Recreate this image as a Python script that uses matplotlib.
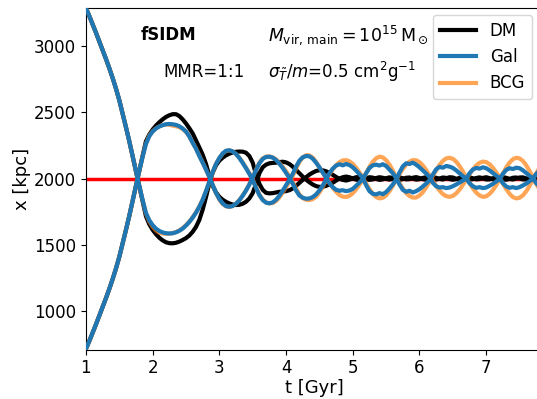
import matplotlib
matplotlib.use("Agg")
import matplotlib.pyplot as plt
import numpy as np

# time grid [Gyr], 0.05 Gyr steps from 1.00 to 7.85
t = np.linspace(1.0, 7.85, 138)

# halo starting at the top (x ~ 3290 kpc)
dm_a = [3287, 3228, 3166, 3102, 3036, 2970, 2904, 2834, 2760, 2680,
        2592, 2490, 2388, 2282, 2170, 2055, 1940, 1828, 1715, 1655,
        1613, 1580, 1553, 1533, 1519, 1512, 1511, 1515, 1524, 1536,
        1550, 1570, 1598, 1635, 1688, 1765, 1860, 1965, 2045, 2100,
        2135, 2158, 2175, 2188, 2197, 2202, 2204, 2203, 2195, 2170,
        2120, 2030, 1960, 1915, 1892, 1888, 1890, 1895, 1900, 1902,
        1905, 1912, 1925, 1945, 1968, 1990, 2010, 2030, 2045, 2057,
        2063, 2062, 2055, 2042, 2028, 2012, 1998, 1990, 1985, 1992,
        2002, 2010, 2012, 2005, 1996, 1990, 1994, 2004, 2010, 2006,
        1997, 1992, 1998, 2008, 2010, 2002, 1994, 1996, 2006, 2011,
        2004, 1995, 1992, 2000, 2009, 2006, 1997, 1993, 2001, 2010,
        2008, 1998, 1993, 1998, 2007, 2010, 2002, 1994, 1996, 2005,
        2010, 2003, 1995, 1994, 2003, 2010, 2006, 1997, 1993, 2000,
        2008, 2009, 2001, 1994, 1995, 2004, 2009, 2003]
gal_a = [3287, 3228, 3166, 3102, 3036, 2970, 2904, 2834, 2760, 2680,
         2592, 2490, 2388, 2282, 2170, 2055, 1945, 1838, 1740, 1685,
         1648, 1622, 1604, 1593, 1587, 1585, 1587, 1594, 1606, 1622,
         1645, 1672, 1705, 1742, 1787, 1840, 1905, 1978, 2050, 2110,
         2155, 2190, 2210, 2214, 2205, 2185, 2155, 2118, 2078, 2035,
         1988, 1930, 1875, 1838, 1818, 1813, 1820, 1840, 1870, 1908,
         1950, 1990, 2035, 2090, 2135, 2160, 2170, 2168, 2150, 2120,
         2085, 2045, 2005, 1965, 1935, 1915, 1908, 1912, 1905, 1910,
         1922, 1945, 1970, 1998, 2040, 2080, 2100, 2105, 2098, 2108,
         2095, 2068, 2040, 2005, 1955, 1915, 1900, 1908, 1895, 1905,
         1920, 1940, 1962, 1988, 2030, 2070, 2088, 2082, 2095, 2090,
         2080, 2062, 2040, 2018, 2000, 1965, 1942, 1930, 1935, 1928,
         1932, 1945, 1960, 1978, 1996, 2035, 2065, 2078, 2072, 2082,
         2078, 2062, 2042, 2020, 2002, 1965, 1940, 1925]
bcg_a = [3287, 3228, 3166, 3102, 3036, 2970, 2904, 2834, 2760, 2680,
         2592, 2490, 2388, 2282, 2170, 2055, 1940, 1835, 1735, 1675,
         1635, 1608, 1592, 1585, 1583, 1584, 1588, 1596, 1608, 1625,
         1648, 1675, 1708, 1745, 1790, 1842, 1905, 1975, 2050, 2112,
         2155, 2188, 2208, 2212, 2205, 2186, 2158, 2122, 2082, 2040,
         1992, 1935, 1880, 1842, 1820, 1812, 1815, 1830, 1858, 1895,
         1935, 1975, 2020, 2075, 2125, 2160, 2177, 2175, 2158, 2125,
         2085, 2045, 2005, 1968, 1931, 1900, 1876, 1863, 1861, 1870,
         1889, 1918, 1953, 1992, 2041, 2088, 2127, 2153, 2165, 2160,
         2139, 2105, 2061, 2010, 1965, 1925, 1891, 1868, 1856, 1857,
         1872, 1897, 1933, 1974, 2019, 2063, 2103, 2133, 2152, 2157,
         2149, 2128, 2095, 2055, 2009, 1966, 1926, 1894, 1872, 1862,
         1866, 1884, 1912, 1949, 1991, 2039, 2084, 2121, 2146, 2157,
         2152, 2133, 2100, 2058, 2010, 1960, 1918, 1885]

# halo starting at the bottom (x ~ 710 kpc)
dm_b = [713, 772, 834, 898, 964, 1030, 1096, 1166, 1240, 1320,
        1408, 1510, 1612, 1718, 1830, 1945, 2060, 2172, 2282, 2332,
        2370, 2400, 2425, 2447, 2465, 2478, 2486, 2486, 2472, 2447,
        2416, 2380, 2341, 2288, 2235, 2180, 2110, 2020, 1945, 1895,
        1862, 1840, 1824, 1812, 1804, 1800, 1802, 1810, 1825, 1850,
        1890, 1960, 2040, 2085, 2105, 2115, 2118, 2120, 2124, 2127,
        2122, 2110, 2090, 2065, 2040, 2015, 1992, 1972, 1955, 1943,
        1937, 1938, 1945, 1955, 1968, 1985, 2000, 2010, 2015, 2010,
        2000, 1992, 1988, 1993, 2002, 2010, 2007, 1998, 1990, 1994,
        2003, 2009, 2005, 1996, 1990, 1996, 2006, 2008, 2000, 1992,
        1995, 2005, 2010, 2004, 1995, 1992, 2000, 2008, 2005, 1996,
        1991, 1996, 2005, 2008, 2000, 1993, 1995, 2004, 2009, 2002,
        1993, 1994, 2002, 2008, 2004, 1995, 1991, 1997, 2006, 2008,
        2000, 1993, 1995, 2003, 2007, 2000, 1994, 1996]
gal_b = [713, 772, 834, 898, 964, 1030, 1096, 1166, 1240, 1320,
         1408, 1510, 1612, 1718, 1830, 1945, 2058, 2165, 2262, 2320,
         2355, 2378, 2393, 2403, 2410, 2412, 2410, 2405, 2395, 2378,
         2355, 2318, 2270, 2225, 2170, 2120, 2068, 2012, 1952, 1892,
         1845, 1812, 1792, 1787, 1793, 1810, 1836, 1870, 1910, 1955,
         2008, 2065, 2115, 2148, 2163, 2165, 2158, 2140, 2112, 2080,
         2042, 2005, 1962, 1910, 1872, 1855, 1848, 1850, 1860, 1880,
         1910, 1948, 1995, 2040, 2075, 2098, 2108, 2100, 2110, 2102,
         2085, 2060, 2032, 2005, 1950, 1905, 1885, 1880, 1890, 1882,
         1898, 1925, 1955, 1992, 2045, 2092, 2115, 2110, 2120, 2105,
         2085, 2062, 2038, 2012, 1968, 1942, 1932, 1935, 1928, 1932,
         1942, 1955, 1970, 1985, 2000, 2040, 2068, 2080, 2075, 2085,
         2078, 2062, 2042, 2022, 2004, 1965, 1940, 1930, 1935, 1928,
         1935, 1948, 1962, 1980, 1998, 2035, 2060, 2075]
bcg_b = [713, 772, 834, 898, 964, 1030, 1096, 1166, 1240, 1320,
         1408, 1510, 1612, 1718, 1830, 1945, 2058, 2168, 2265, 2325,
         2358, 2380, 2395, 2404, 2408, 2406, 2400, 2395, 2388, 2375,
         2352, 2318, 2272, 2228, 2175, 2122, 2068, 2012, 1952, 1890,
         1842, 1808, 1790, 1786, 1792, 1810, 1838, 1872, 1912, 1958,
         2010, 2068, 2120, 2152, 2166, 2168, 2160, 2145, 2120, 2090,
         2055, 2018, 1975, 1925, 1880, 1852, 1840, 1838, 1845, 1862,
         1895, 1935, 1990, 2032, 2069, 2100, 2124, 2137, 2139, 2130,
         2111, 2082, 2047, 2008, 1963, 1920, 1885, 1860, 1850, 1855,
         1873, 1904, 1945, 1991, 2034, 2072, 2105, 2128, 2139, 2138,
         2124, 2099, 2065, 2025, 1984, 1944, 1910, 1883, 1867, 1862,
         1869, 1888, 1916, 1952, 1992, 2032, 2069, 2099, 2119, 2128,
         2124, 2108, 2082, 2047, 2008, 1963, 1920, 1885, 1860, 1850,
         1855, 1873, 1904, 1945, 1991, 2040, 2080, 2112]

x_center = 2000

fig = plt.figure(figsize=(5.37, 3.99), dpi=100)
ax = fig.add_axes([0.160, 0.124, 0.851, 0.857])

ax.axhline(x_center, color="red", lw=2.5, zorder=1)

ax.plot(t, dm_a, color="black", lw=3, label="DM", zorder=2)
ax.plot(t, dm_b, color="black", lw=3, zorder=2)
ax.plot(t, bcg_a, color="tab:orange", alpha=0.7, lw=3, label="BCG", zorder=3)
ax.plot(t, bcg_b, color="tab:orange", alpha=0.7, lw=3, zorder=3)
ax.plot(t, gal_a, color="tab:blue", lw=3, label="Gal", zorder=4)
ax.plot(t, gal_b, color="tab:blue", lw=3, zorder=4)

ax.set_xlim(1, 7.85)
ax.set_ylim(709, 3291)
ax.set_xticks([1, 2, 3, 4, 5, 6, 7])
ax.set_yticks([1000, 1500, 2000, 2500, 3000])
ax.tick_params(labelsize=12)

ax.set_xlabel("t [Gyr]", fontsize=13, labelpad=1)
ax.set_ylabel("x [kpc]", fontsize=13, labelpad=2)

ax.text(0.120, 0.92, "fSIDM", transform=ax.transAxes, fontsize=12,
        fontweight="bold", va="center")
ax.text(0.398, 0.92, r"$M_{\rm vir,\,main}=10^{15}\,{\rm M}_\odot$",
        transform=ax.transAxes, fontsize=12.5, va="center")
ax.text(0.169, 0.811, "MMR=1:1", transform=ax.transAxes, fontsize=12,
        va="center")
ax.text(0.398, 0.811, r"$\sigma_{\tilde{T}}/m$=0.5 cm$^2$g$^{-1}$",
        transform=ax.transAxes, fontsize=12, va="center")

h, l = ax.get_legend_handles_labels()
order = [0, 2, 1]
ax.legend([h[i] for i in order], [l[i] for i in order], fontsize=12,
          loc="upper right", bbox_to_anchor=(0.976, 0.978), borderaxespad=0,
          handlelength=2.2)

fig.savefig("out.png", dpi=100)
